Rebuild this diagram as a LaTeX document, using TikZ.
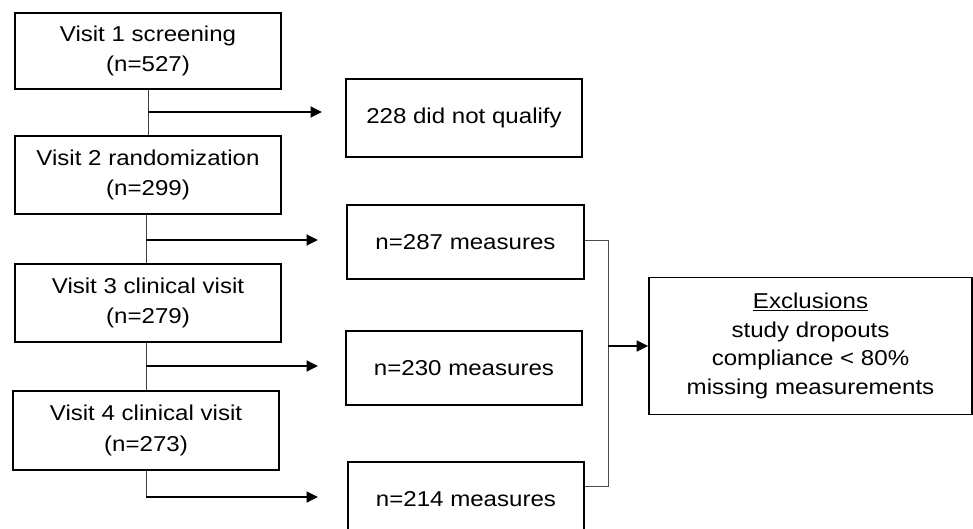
\documentclass[tikz,border=0pt]{standalone}
\usepackage{fontspec}
\setmainfont{Liberation Sans}[FakeStretch=1.12]
\usetikzlibrary{arrows.meta}
\begin{document}
\begin{tikzpicture}[x=1pt,y=-1pt,
  box/.style={draw=black,line width=1.8pt,align=center,inner sep=0pt,
    font=\fontsize{21.5}{30.5}\selectfont},
  link/.style={draw=black!75,line width=1pt},
  arr/.style={draw=black,line width=1.8pt,-{Triangle[length=11.5pt,width=11pt]}},
  brk/.style={draw=black!70,line width=1pt}]
\useasboundingbox (0,0) rectangle (973,529);
\clip (0,0) rectangle (973,529);
% left column
\node[box,minimum width=266,minimum height=76] (v1) at (148,51) {Visit 1 screening\\(n=527)};
\node[box,minimum width=266,minimum height=78] (v2) at (148,175) {Visit 2 randomization\\(n=299)};
\node[box,minimum width=266,minimum height=78] (v3) at (148,303) {Visit 3 clinical visit\\(n=279)};
\node[box,minimum width=266,minimum height=79] (v4) at (146,430.5) {Visit 4 clinical visit\\(n=273)};
% middle column
\node[box,minimum width=236,minimum height=78] (q) at (464,118) {228 did not qualify};
\node[box,minimum width=237,minimum height=74] (m1) at (465.5,242) {n=287 measures};
\node[box,minimum width=236,minimum height=74] (m2) at (464,368) {n=230 measures};
\node[box,minimum width=236,minimum height=74] (m3) at (466,499) {n=214 measures};
% exclusions
\node[box,minimum width=323,minimum height=137,font=\fontsize{21.5}{28.6}\selectfont] (ex) at (810.5,346)
  {\underline{Exclusions}\\study dropouts\\compliance < 80\%\\missing measurements};
% left connectors
\coordinate (a1) at (148,112);
\coordinate (e1) at (322,112);
\coordinate (a2) at (146,240);
\coordinate (e2) at (318,240);
\coordinate (a3) at (146,366);
\coordinate (e3) at (318,366);
\coordinate (a4) at (146,497);
\coordinate (e4) at (318,497);
\draw[link] (v1.south) -- (v2.north);
\draw[link] (v2.south -| a2) -- (v3.north -| a2);
\draw[link] (v3.south -| a3) -- (v4.north -| a3);
\draw[link] (v4.south) -- (a4);
\draw[arr] (a1) -- (e1);
\draw[arr] (a2) -- (e2);
\draw[arr] (a3) -- (e3);
\draw[arr] (a4) -- (e4);
% bracket
\coordinate (jt) at (608,240);
\coordinate (jb) at (608,486);
\draw[brk] (m1.east |- jt) -- (jt) -- (jb) -- (jb -| m3.east);
\draw[arr] (jt |- ex.west) -- (ex.west);
\end{tikzpicture}
\end{document}
